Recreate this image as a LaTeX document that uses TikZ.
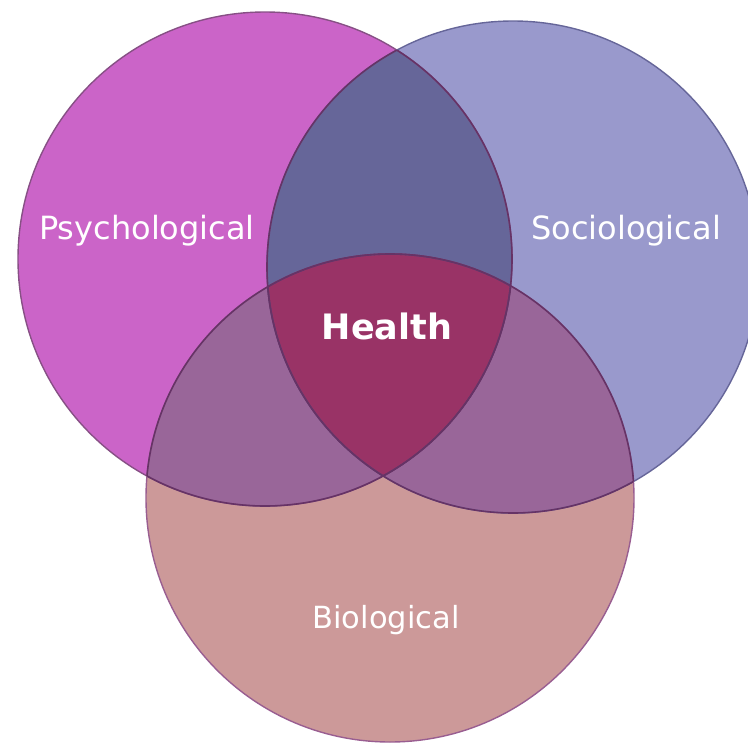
\documentclass[tikz,border=0pt]{standalone}
\usepackage{fontspec}
\setmainfont{DejaVu Sans}
\usepackage{tikz}
\usetikzlibrary{positioning}
\usepackage{xcolor}

\definecolor{psycol}{HTML}{CB64C8}
\definecolor{soccol}{HTML}{9999CC}
\definecolor{biocol}{HTML}{CC9999}
\definecolor{psysoc}{HTML}{666699}
\definecolor{psybio}{HTML}{996699}
\definecolor{socbio}{HTML}{996699}
\definecolor{healthcol}{HTML}{993366}
\definecolor{edgedark}{HTML}{663366}

\begin{document}
\begin{tikzpicture}[x=1pt,y=-1pt,
  lbl/.style={text=white, inner sep=0pt, font=\fontsize{32}{32}\selectfont},
  inner/.style={edgedark, line width=1.6pt}]

\useasboundingbox (0,0) rectangle (748,747);
\clip (0,0) rectangle (748,747);

\coordinate (pc) at (265,259);
\coordinate (sc) at (513,267);
\coordinate (bc) at (390,498);

% circles
\fill[psycol] (pc) circle (247);
\fill[soccol] (sc) circle (246);
\fill[biocol] (bc) circle (244);

% overlaps
\begin{scope}
\clip (pc) circle (247);
\fill[psysoc] (sc) circle (246);
\fill[psybio] (bc) circle (244);
\end{scope}
\begin{scope}
\clip (sc) circle (246);
\fill[socbio] (bc) circle (244);
\clip (pc) circle (247);
\fill[healthcol] (bc) circle (244);
\end{scope}

% outer edges
\draw[color=psycol!60!black!90, line width=1.4pt] (pc) circle (247);
\draw[color=psysoc, line width=1.4pt] (sc) circle (246);
\draw[color=psybio!85!healthcol, line width=1.4pt] (bc) circle (244);

% inner edges
\foreach \a/\ar/\b/\br in {pc/247/sc/246, pc/247/bc/244, sc/246/pc/247, sc/246/bc/244, bc/244/pc/247, bc/244/sc/246}{
  \begin{scope}
  \clip (\b) circle (\br);
  \draw[inner] (\a) circle (\ar);
  \end{scope}
}

% nodes
\node[lbl] (psy) at (147,231) {Psychological};
\node[lbl] (soc) at (626,231) {Sociological};
\node[lbl, font=\fontsize{30.5}{30.5}\selectfont] (bio) at (386,620) {Biological};
\node[lbl, font=\fontsize{35}{35}\selectfont\bfseries] (health) at (387,326) {Health};

\end{tikzpicture}
\end{document}
